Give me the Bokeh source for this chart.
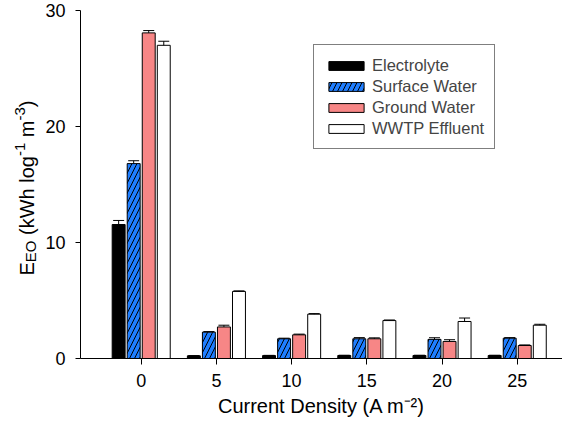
import math
from bokeh.plotting import figure
from bokeh.models import ColumnDataSource, Range1d, FixedTicker, Legend, LegendItem
from bokeh.layouts import row
from bokeh.core.properties import value
from bokeh.embed import file_html
from bokeh.resources import INLINE

# ---------------- data ----------------
densities = [0, 5, 10, 15, 20, 25]
series_names = ["Electrolyte", "Surface Water", "Ground Water", "WWTP Effluent"]
electrolyte = [11.55, 0.23, 0.25, 0.26, 0.26, 0.26]
surface_water = [16.8, 2.27, 1.70, 1.70, 1.65, 1.75]
ground_water = [28.07, 2.72, 2.04, 1.70, 1.47, 1.12]
wwtp_effluent = [27.0, 5.78, 3.82, 3.27, 3.19, 2.87]
electrolyte_err = [0.35, 0.02, 0.02, 0.02, 0.02, 0.02]
surface_water_err = [0.25, 0.05, 0.05, 0.10, 0.14, 0.05]
ground_water_err = [0.20, 0.15, 0.06, 0.08, 0.15, 0.05]
wwtp_effluent_err = [0.35, 0.05, 0.05, 0.05, 0.30, 0.08]
y_ticks = [0, 10, 20, 30]
x_title = "Current Density (A m\u207b\u00b2)"

series_values = [electrolyte, surface_water, ground_water, wwtp_effluent]
series_errors = [electrolyte_err, surface_water_err, ground_water_err, wwtp_effluent_err]

# ---------------- styles / layout sizes ----------------
FONT = "Liberation Sans"
offsets = [-1.5, -0.5, 0.5, 1.5]
bar_width = 0.86
styles = [
    dict(fill_color="black"),
    dict(fill_color="#1f7eff", hatch_pattern="/", hatch_color="black",
         hatch_scale=10, hatch_weight=1),
    dict(fill_color="#f78686"),
    dict(fill_color="white"),
]
LEFT_W = 40          # strip holding the y-axis title
MAIN_W, H = 522, 421
TOP_B, BOT_B = 10, 63
FRAME_H = H - TOP_B - BOT_B

p = figure(width=MAIN_W, height=H, output_backend="svg", toolbar_location=None,
           x_range=Range1d(-4.036, 28.01), y_range=Range1d(0, 30),
           min_border_left=40, min_border_right=0, min_border_top=TOP_B,
           min_border_bottom=BOT_B)
p.outline_line_color = None
p.xgrid.visible = False
p.ygrid.visible = False
p.background_fill_color = "white"
p.border_fill_color = "white"

renderers = []
for vals, errs, off, st in zip(series_values, series_errors, offsets, styles):
    src = ColumnDataSource(dict(
        x=[d + off for d in densities],
        top=vals,
        upper=[v + e for v, e in zip(vals, errs)],
    ))
    r = p.vbar(x="x", top="top", bottom=0, width=bar_width, source=src,
               line_color="black", line_width=1, **st)
    renderers.append(r)
    p.segment(x0="x", y0="top", x1="x", y1="upper", source=src,
              line_color="black", line_width=1)
    p.scatter(x="x", y="upper", source=src, marker="dash", size=11,
              line_color="black", line_width=1)

# ---------------- axes ----------------
p.xaxis.ticker = FixedTicker(ticks=densities)
p.yaxis.ticker = FixedTicker(ticks=y_ticks)
for ax in [p.xaxis[0], p.yaxis[0]]:
    ax.axis_line_color = "black"
    ax.axis_line_width = 1
    ax.major_tick_line_color = "black"
    ax.minor_tick_line_color = None
    ax.major_tick_in = 0
    ax.major_label_text_font = FONT
    ax.major_label_text_font_size = "18px"
    ax.major_label_text_color = "black"
p.yaxis.axis_label = None
p.xaxis.major_tick_out = 6
p.xaxis.major_label_standoff = 9
p.yaxis.major_tick_out = 5
p.yaxis.major_label_standoff = 10
p.xaxis.axis_label = x_title
p.xaxis.axis_label_text_font = FONT
p.xaxis.axis_label_text_font_size = "20px"
p.xaxis.axis_label_text_font_style = "normal"
p.xaxis.axis_label_text_color = "black"
p.xaxis.axis_label_standoff = 5

# ---------------- legend ----------------
legend = Legend(items=[LegendItem(label=n, renderers=[r]) for n, r in zip(series_names, renderers)],
                location=(233, 209), label_text_font=FONT, label_text_font_size="16.5px",
                glyph_width=44, glyph_height=11, label_height=20, label_standoff=4,
                spacing=1, padding=10, margin=0, border_line_color="black",
                border_line_width=1, background_fill_color="white", background_fill_alpha=1)
p.add_layout(legend)

# ---------------- y-axis title with sub/superscripts (own strip) ----------------
W = {" ": 278, "(": 333, ")": 333, "-": 333, "1": 556, "2": 556, "3": 556,
     "A": 667, "C": 722, "D": 722, "E": 667, "O": 778, "W": 944, "a": 556,
     "e": 556, "g": 556, "h": 556, "i": 222, "k": 500, "l": 222, "m": 833,
     "n": 556, "o": 556, "r": 333, "s": 500, "t": 278, "u": 556, "y": 500}

def tw(s, size):
    return sum(W.get(c, 556) for c in s) / 1000.0 * size

y_title = [("E", 20, 0), ("EO", 15, -4), (" (kWh log", 20, 0), ("-1", 15, 7),
           (" m", 20, 0), ("-3", 15, 7), (")", 20, 0)]

# strip frame is aligned with the main frame (same top/bottom borders);
# its ranges are in pixels: x from the strip's left, y up from the frame bottom
left = figure(width=LEFT_W, height=H, output_backend="svg", toolbar_location=None,
              x_range=Range1d(0, LEFT_W), y_range=Range1d(0, FRAME_H),
              min_border_left=0, min_border_right=0, min_border_top=TOP_B,
              min_border_bottom=BOT_B, x_axis_type=None, y_axis_type=None)
left.outline_line_color = None
left.grid.visible = False
left.background_fill_color = "white"
left.border_fill_color = "white"

xs, ys, texts, sizes = [], [], [], []
cur = 83.0
for s, size, rise in y_title:
    stripped = s.lstrip(" ")
    lead = tw(s[: len(s) - len(stripped)], size)
    xs.append(26 - rise); ys.append(cur + lead); texts.append(stripped); sizes.append(f"{size}px")
    cur += tw(s, size)
left.text(x="x", y="y", text="text", text_font_size="size",
          source=ColumnDataSource(dict(x=xs, y=ys, text=texts, size=sizes)),
          angle=math.pi / 2, text_font=value(FONT), text_align=value("left"),
          text_baseline=value("alphabetic"), text_color="black")

layout = row(left, p, spacing=0)
open("out.html", "w").write(file_html(layout, INLINE))
